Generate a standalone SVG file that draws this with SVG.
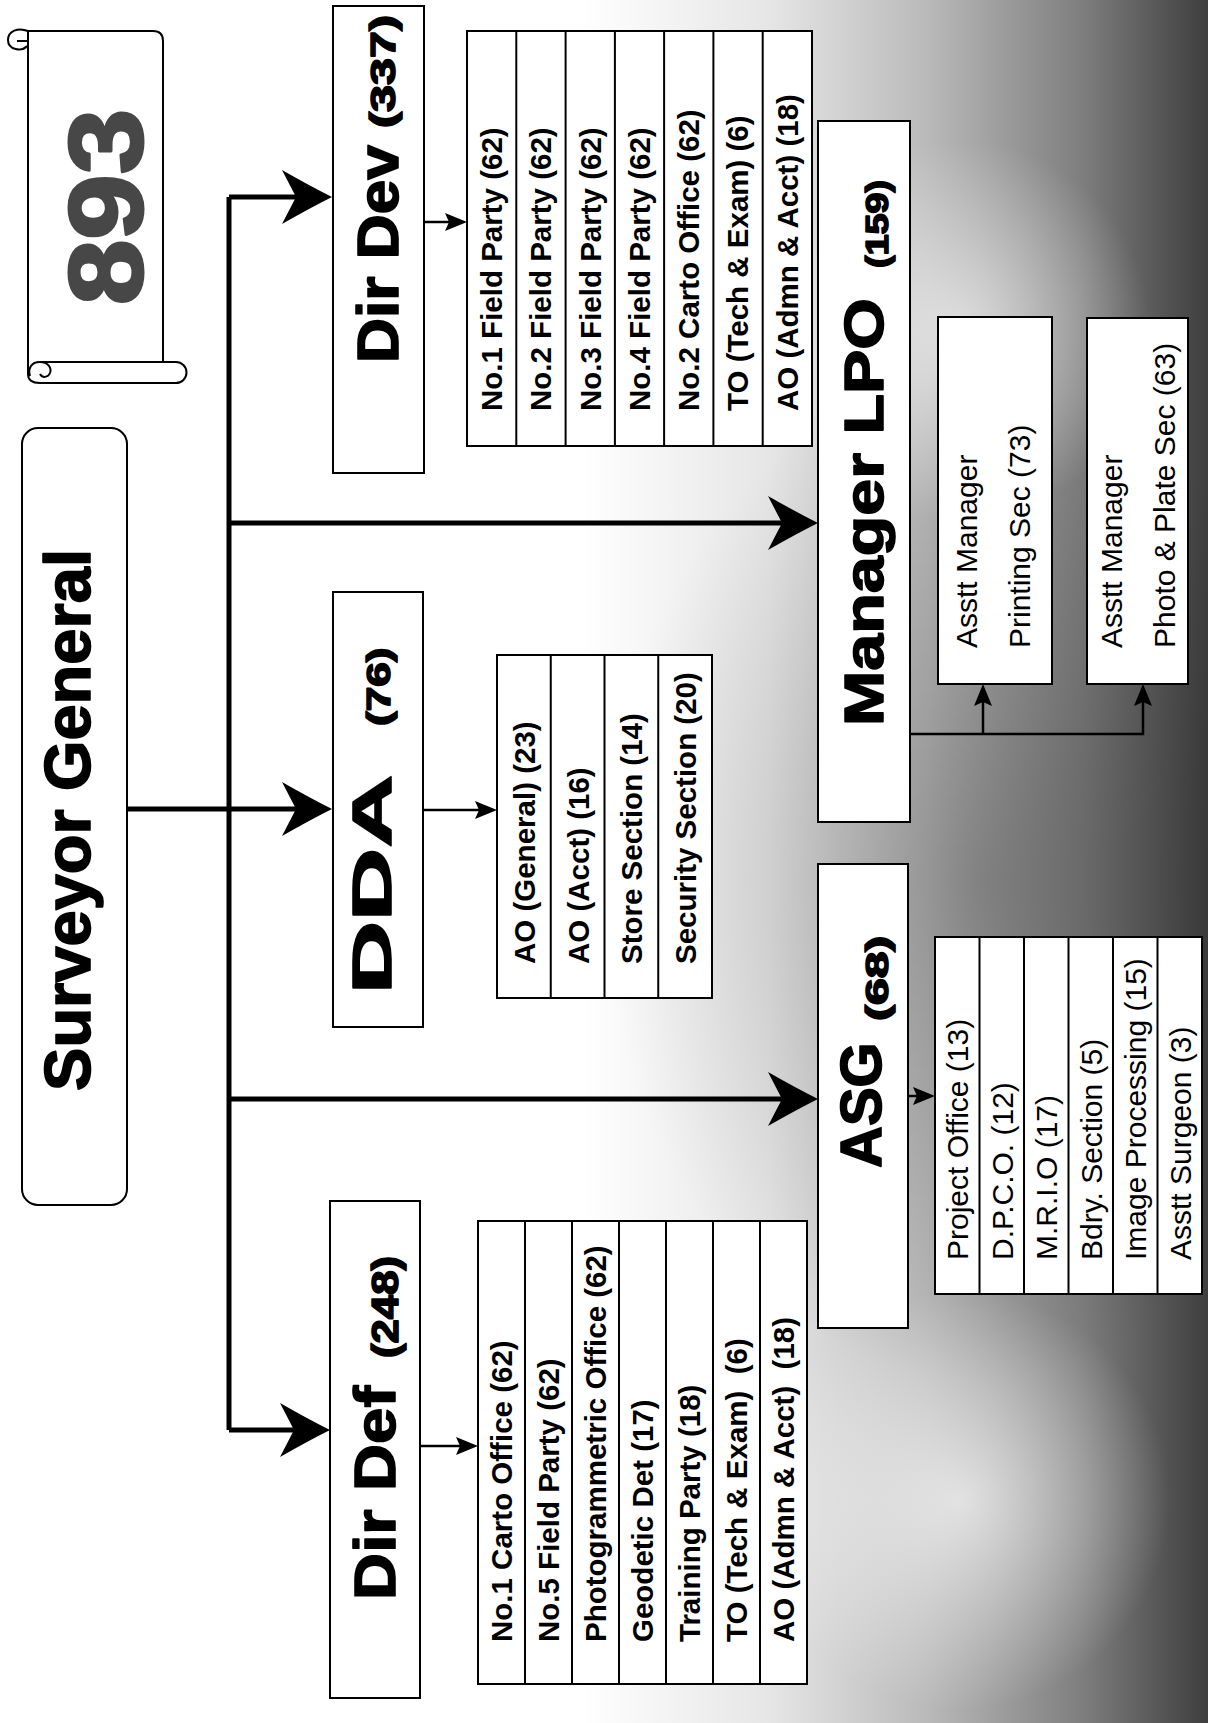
<svg xmlns="http://www.w3.org/2000/svg" xmlns:xlink="http://www.w3.org/1999/xlink" width="1208" height="1723" viewBox="0 0 1208 1723">
<style>
.box{fill:#fff;stroke:#000;stroke-width:2}
.sep{stroke:#000;stroke-width:2}
.big{font-family:"Liberation Sans",Arial,sans-serif;font-weight:bold;fill:#000;stroke:#000;stroke-width:1.6;stroke-linejoin:round}
.lb{font-family:"Liberation Sans",Arial,sans-serif;font-weight:bold;font-size:29.5px;fill:#000}
.lr{font-family:"Liberation Sans",Arial,sans-serif;font-size:30px;fill:#000}
.bus{stroke:#000;stroke-width:5;fill:none}
.thin{stroke:#000;stroke-width:2.5;fill:none}
.scroll{fill:none;stroke:#000;stroke-width:2}
</style>
<defs>
<linearGradient id="bg" gradientUnits="userSpaceOnUse" x1="580" y1="0" x2="1208" y2="0">
<stop offset="0" stop-color="#ffffff"/>
<stop offset="0.3" stop-color="#e6e6e6"/>
<stop offset="0.55" stop-color="#bababa"/>
<stop offset="0.8" stop-color="#7e7e7e"/>
<stop offset="1" stop-color="#3e3e3e"/>
</linearGradient>
<radialGradient id="band" gradientUnits="userSpaceOnUse" cx="980" cy="880" r="420" gradientTransform="translate(980 880) scale(0.9 1.2) translate(-980 -880)">
<stop offset="0" stop-color="#000" stop-opacity="0.22"/>
<stop offset="1" stop-color="#000" stop-opacity="0"/>
</radialGradient>
<radialGradient id="pocket" gradientUnits="userSpaceOnUse" cx="960" cy="330" r="190">
<stop offset="0" stop-color="#fff" stop-opacity="0.6"/>
<stop offset="1" stop-color="#fff" stop-opacity="0"/>
</radialGradient>
<radialGradient id="pocket2" gradientUnits="userSpaceOnUse" cx="960" cy="1500" r="210">
<stop offset="0" stop-color="#fff" stop-opacity="0.65"/>
<stop offset="1" stop-color="#fff" stop-opacity="0"/>
</radialGradient>
<path id="ahBig" d="M0,0 Q-22,-11 -50,-27 L-36,0 L-50,27 Q-22,11 0,0Z" fill="#000"/>
<path id="ahSmall" d="M0,0 L-22,-9 L-18,0 L-22,9Z" fill="#000"/>
</defs>
<rect x="0" y="0" width="1208" height="1723" fill="#fff"/>
<rect x="580" y="0" width="628" height="1723" fill="url(#bg)"/>
<rect x="560" y="300" width="648" height="1150" fill="url(#band)"/>
<rect x="700" y="100" width="508" height="500" fill="url(#pocket)"/>
<rect x="700" y="1250" width="508" height="473" fill="url(#pocket2)"/>

<g id="connectors">
<path class="bus" d="M229,197 V1430"/>
<path class="bus" d="M229,197 H296"/>
<path class="bus" d="M229,523 H784"/>
<path class="bus" d="M127,809 H296"/>
<path class="bus" d="M229,1099 H784"/>
<path class="bus" d="M229,1430 H294"/>
<use xlink:href="#ahBig" x="332" y="197"/>
<use xlink:href="#ahBig" x="818" y="523"/>
<use xlink:href="#ahBig" x="332" y="809"/>
<use xlink:href="#ahBig" x="818" y="1099"/>
<use xlink:href="#ahBig" x="330" y="1430"/>
<path class="thin" d="M424,222 H450"/>
<use xlink:href="#ahSmall" x="467" y="222"/>
<path class="thin" d="M423,810 H480"/>
<use xlink:href="#ahSmall" x="497" y="810"/>
<path class="thin" d="M420,1446 H461"/>
<use xlink:href="#ahSmall" x="478" y="1446"/>
<path class="thin" d="M908,1096 H918"/>
<use xlink:href="#ahSmall" x="935" y="1096"/>
<path class="thin" d="M910,734 H1143 V700 M983,734 V700"/>
<use xlink:href="#ahSmall" transform="translate(983 684) rotate(-90)"/>
<use xlink:href="#ahSmall" transform="translate(1143 684) rotate(-90)"/>
</g>

<g id="scroll-893">
<path d="M28,31 H153 Q163,31 163,41 V362" class="scroll" fill="#fff"/>
<path d="M28,31 V374 Q28,383 40,383" class="scroll"/>
<path d="M28,31 C18,27 8,31 8,40 C8,50 22,52 27,46 M17,41 H28" class="scroll"/>
<path d="M40,362 H176 A10.5,10.5 0 0 1 176,383 H40" class="scroll"/>
<path d="M40,362 C30,362 28,370 30,376 M40,362 C48,362 52,368 50,373 C48,378 42,378 40,374" class="scroll"/>
<text class="big" font-size="104" text-anchor="middle" transform="translate(142 207) rotate(-90) scale(1.13 1)" style="fill:#474747;stroke:#474747;stroke-width:3">893</text>
</g>

<g id="surveyor-general">
<rect x="22" y="428" width="105" height="777" rx="16" class="box"/>
<text class="big" font-size="65" text-anchor="middle" transform="translate(90 820) rotate(-90)">Surveyor General</text>
</g>

<g id="dir-dev">
<rect x="333" y="6" width="91" height="467" class="box"/>
<text class="big" font-size="57" transform="translate(398 363) rotate(-90) scale(1.092 1)">Dir Dev</text>
<text class="big" font-size="36" transform="translate(395 128) rotate(-90) scale(1.345 1)">(337)</text>
</g>

<g id="dir-dev-list">
<rect x="467" y="31" width="345" height="415" class="box"/>
<path class="sep" d="M516.3,31V446M565.6,31V446M614.9,31V446M664.1,31V446M713.4,31V446M762.7,31V446"/>
<text class="lb" transform="translate(502 411) rotate(-90)">No.1 Field Party (62)</text>
<text class="lb" transform="translate(551.3 411) rotate(-90)">No.2 Field Party (62)</text>
<text class="lb" transform="translate(600.6 411) rotate(-90)">No.3 Field Party (62)</text>
<text class="lb" transform="translate(649.9 411) rotate(-90)">No.4 Field Party (62)</text>
<text class="lb" transform="translate(699.1 411) rotate(-90)">No.2 Carto Office (62)</text>
<text class="lb" transform="translate(748.4 411) rotate(-90)">TO (Tech &amp; Exam) (6)</text>
<text class="lb" transform="translate(797.7 411) rotate(-90)">AO (Admn &amp; Acct) (18)</text>
</g>

<g id="dda">
<rect x="333" y="592" width="90" height="435" class="box"/>
<text class="big" font-size="55" transform="translate(391 994) rotate(-90) scale(1.84 1)">DDA</text>
<text class="big" font-size="34" transform="translate(390 726) rotate(-90) scale(1.3 1)">(76)</text>
</g>

<g id="dda-list">
<rect x="497" y="655" width="215" height="343" class="box"/>
<path class="sep" d="M550.75,655V998M604.5,655V998M658.25,655V998"/>
<text class="lb" transform="translate(535 964) rotate(-90)">AO (General) (23)</text>
<text class="lb" transform="translate(588.6 964) rotate(-90)">AO (Acct) (16)</text>
<text class="lb" transform="translate(642.4 964) rotate(-90)">Store Section (14)</text>
<text class="lb" transform="translate(696.1 964) rotate(-90)">Security Section (20)</text>
</g>

<g id="manager-lpo">
<rect x="818" y="121" width="92" height="701" class="box"/>
<text class="big" font-size="56" transform="translate(883 726) rotate(-90) scale(1.186 1)">Manager LPO</text>
<text class="big" font-size="32" transform="translate(888 268) rotate(-90) scale(1.18 1)">(159)</text>
</g>

<g id="asst-printing">
<rect x="938" y="317" width="114" height="367" class="box"/>
<text class="lr" transform="translate(977 648) rotate(-90)">Asstt Manager</text>
<text class="lr" transform="translate(1030 648) rotate(-90)">Printing Sec (73)</text>
</g>

<g id="asst-photo">
<rect x="1087" y="318" width="101" height="366" class="box"/>
<text class="lr" transform="translate(1122 648) rotate(-90)">Asstt Manager</text>
<text class="lr" transform="translate(1175 648) rotate(-90)">Photo &amp; Plate Sec (63)</text>
</g>

<g id="asg">
<rect x="818" y="864" width="90" height="464" class="box"/>
<text class="big" font-size="58" transform="translate(881 1168) rotate(-90)">ASG</text>
<text class="big" font-size="32" transform="translate(888 1021) rotate(-90) scale(1.5 1)">(68)</text>
</g>

<g id="asg-list">
<rect x="935" y="937" width="267" height="357" class="box"/>
<path class="sep" d="M979.5,937V1294M1024,937V1294M1068.5,937V1294M1113,937V1294M1157.5,937V1294"/>
<text class="lr" transform="translate(968 1260) rotate(-90)">Project Office (13)</text>
<text class="lr" transform="translate(1012.5 1260) rotate(-90)">D.P.C.O. (12)</text>
<text class="lr" transform="translate(1057 1260) rotate(-90)">M.R.I.O (17)</text>
<text class="lr" transform="translate(1101.5 1260) rotate(-90)">Bdry. Section (5)</text>
<text class="lr" transform="translate(1146 1260) rotate(-90)">Image Processing (15)</text>
<text class="lr" transform="translate(1190.5 1260) rotate(-90)">Asstt Surgeon (3)</text>
</g>

<g id="dir-def">
<rect x="330" y="1201" width="90" height="497" class="box"/>
<text class="big" font-size="57" transform="translate(395 1600) rotate(-90) scale(1.146 1)">Dir Def</text>
<text class="big" font-size="36" transform="translate(398 1358) rotate(-90) scale(1.214 1)">(248)</text>
</g>

<g id="dir-def-list">
<rect x="478" y="1221" width="329" height="463" class="box"/>
<path class="sep" d="M525,1221V1684M572,1221V1684M619,1221V1684M666,1221V1684M713,1221V1684M760,1221V1684"/>
<text class="lb" transform="translate(512 1642) rotate(-90)">No.1 Carto Office (62)</text>
<text class="lb" transform="translate(559 1642) rotate(-90)">No.5 Field Party (62)</text>
<text class="lb" transform="translate(606 1642) rotate(-90)">Photogrammetric Office (62)</text>
<text class="lb" transform="translate(653 1642) rotate(-90)">Geodetic Det (17)</text>
<text class="lb" transform="translate(700 1642) rotate(-90)">Training Party (18)</text>
<text class="lb" transform="translate(747 1642) rotate(-90)">TO (Tech &amp; Exam)&#160; (6)</text>
<text class="lb" transform="translate(794 1642) rotate(-90)">AO (Admn &amp; Acct)&#160; (18)</text>
</g>
</svg>
